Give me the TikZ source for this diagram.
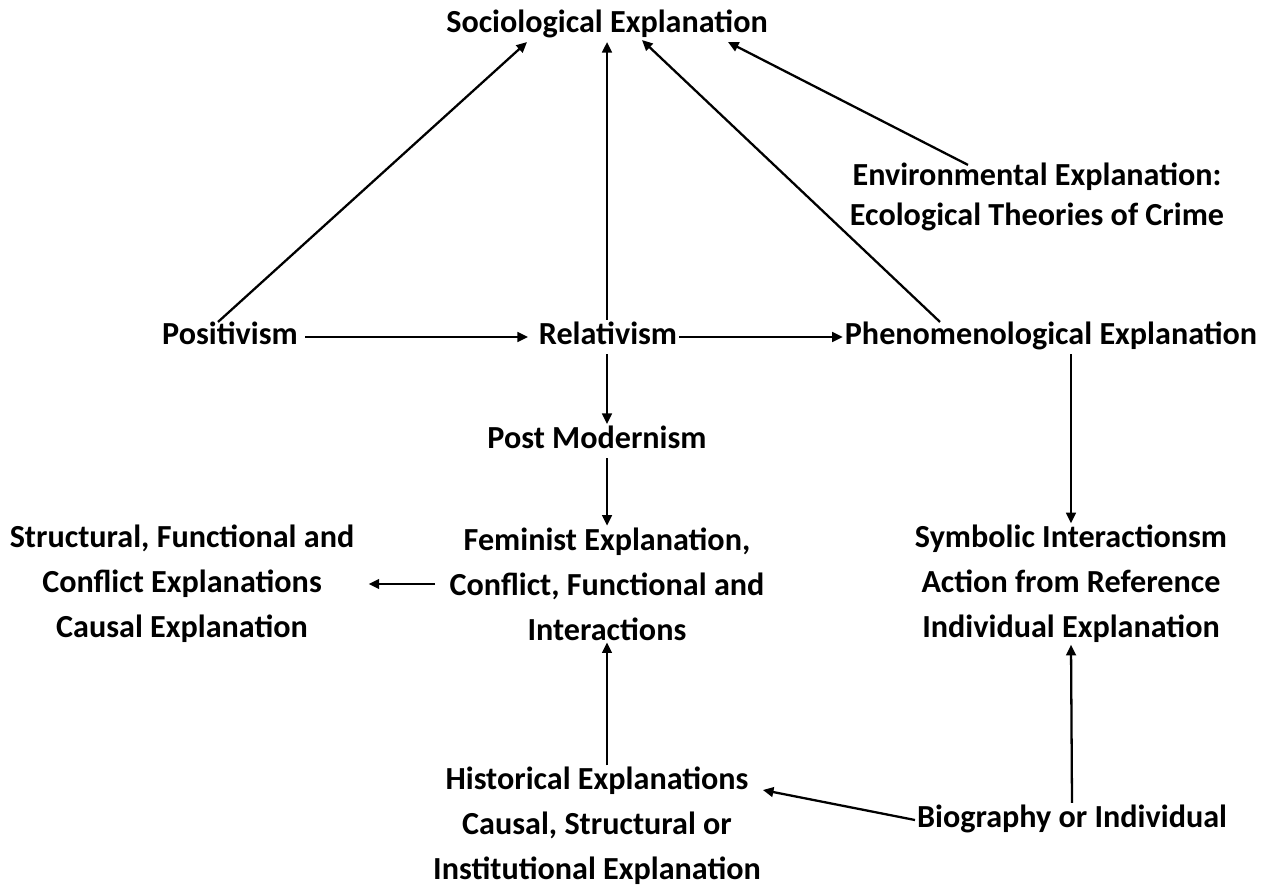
\documentclass[tikz,border=0pt]{standalone}
\usepackage{fontspec}
\setmainfont{Carlito}
\usetikzlibrary{arrows.meta, calc}

\begin{document}
\begin{tikzpicture}[
  x=0.02cm, y=-0.02cm,
  lbl/.style={align=center, inner sep=1pt, font=\bfseries\fontsize{18.3}{25.5}\selectfont},
  ligne/.style={lbl, text height=13pt, text depth=4pt},
  fl/.style={-{Triangle[length=6pt, width=5.5pt]}, line width=1.3pt},
]
\useasboundingbox (0,0) rectangle (1274,893);
% ---- le haut du schéma
\node[ligne] (soc) at (607,25) {Sociological Explanation};
\node[lbl, font=\bfseries\fontsize{18.3}{22.7}\selectfont] (env) at (1037,197) {Environmental Explanation:\\Ecological Theories of Crime};
% ---- la ligne du milieu
\node[ligne] (pos) at (230,337) {Positivism};
\node[ligne] (rel) at (608,337) {Relativism};
\node[ligne] (phen) at (1051,337) {Phenomenological Explanation};
\node[ligne] (post) at (597,441) {Post Modernism};
% ---- les explications
\node[lbl] (strc) at (182,584) {Structural, Functional and\\Conflict Explanations\\Causal Explanation};
\node[lbl] (fem) at (607,584) {Feminist Explanation,\\Conflict, Functional and\\Interactions};
\node[lbl] (sym) at (1071,584) {Symbolic Interactionsm\\Action from Reference\\Individual Explanation};
\node[lbl] (hist) at (597,826) {Historical Explanations\\Causal, Structural or\\Institutional Explanation};
\node[ligne] (bio) at (1072,820) {Biography or Individual};
% ---- flèches vers le haut
\draw[fl] ($(pos.north)+(-12,2)$) -- ($(soc.south)+(-80,0)$);
\draw[fl] (rel.north -| soc.south) -- (soc.south);
\draw[fl] ($(phen.north)+(-111,2)$) -- ($(soc.south)+(35,-2)$);
\draw[fl] ($(env.north)+(-69,4)$) -- ($(soc.south)+(121,0)$);
% ---- flèches horizontales
\draw[fl, shorten <=3pt, shorten >=5pt] (pos.east) -- (rel.west);
\draw[fl] (rel.east) -- (phen.west);
\draw[fl, shorten <=7pt, shorten >=7pt] (fem.west) -- (strc.east);
% ---- flèches verticales
\draw[fl] (rel.south -| fem.north) -- (fem.north |- post.north);
\draw[fl] (fem.north |- post.south) -- (fem.north);
\draw[fl] (sym.north |- phen.south) -- (sym.north);
\draw[fl] (fem.south |- hist.north) -- (fem.south);
\draw[fl] (bio.north) -- (sym.south);
\draw[fl] (bio.west) -- ($(hist.east)+(0,-36)$);
\end{tikzpicture}
\end{document}
